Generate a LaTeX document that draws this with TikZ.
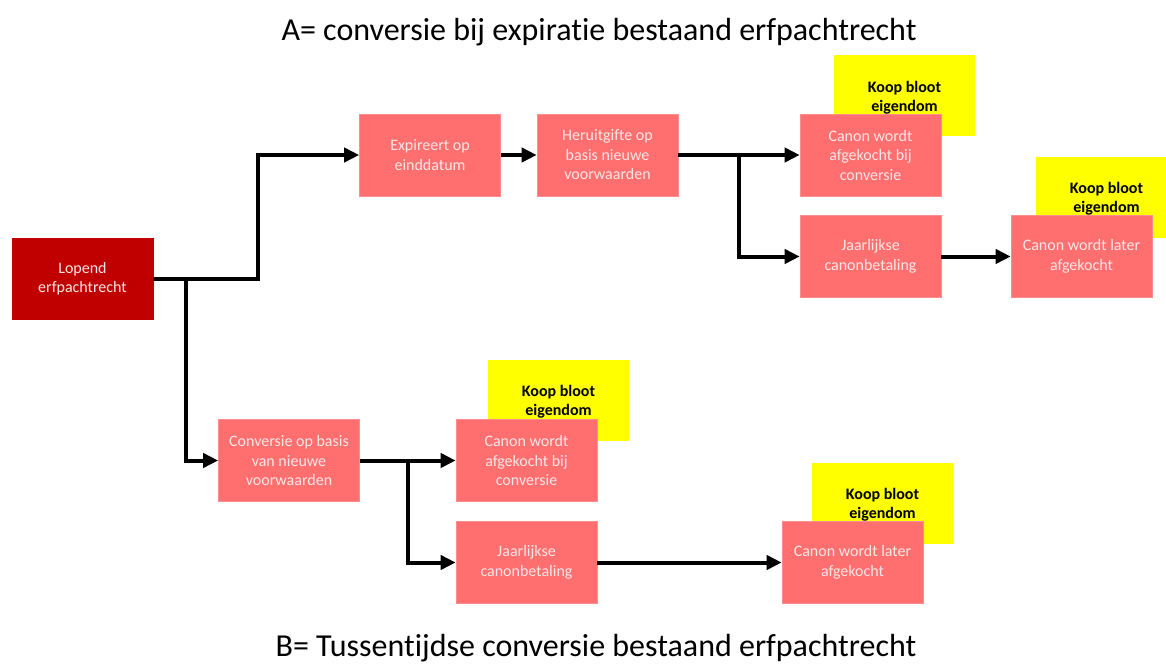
\documentclass[tikz,border=0pt]{standalone}
\usepackage{fontspec}
\setmainfont{Carlito}[Ligatures=NoCommon]
\usetikzlibrary{arrows.meta}
\definecolor{pinkc}{HTML}{FF6F6F}
\definecolor{pinkedge}{HTML}{FF8C8C}
\definecolor{pinktxt}{HTML}{FDE6E6}
\definecolor{darkred}{HTML}{C00000}
\definecolor{yel}{HTML}{FFFF00}
\tikzset{
  pbox/.style={rectangle, fill=pinkc, draw=pinkedge, line width=0.6pt, text=pinktxt,
    minimum width=141pt, minimum height=82pt, inner sep=0pt, align=center,
    font=\fontsize{16}{19.5}\selectfont},
  dbox/.style={pbox, fill=darkred, draw=darkred},
  ybox/.style={rectangle, fill=yel, minimum width=141pt, minimum height=81pt, inner sep=0pt,
    align=center, text=black, font=\fontsize{16}{19}\selectfont\bfseries},
  ytxt/.style={inner sep=0pt, align=center, text=black, font=\fontsize{16}{19}\selectfont\bfseries},
  arr/.style={line width=4pt, -{Triangle[length=15pt,width=14pt]}},
  ttl/.style={anchor=base, font=\fontsize{32}{36}\selectfont, text=black}
}
\begin{document}
\begin{tikzpicture}[x=1pt,y=-1pt]
\useasboundingbox[fill=white] (0,0) rectangle (1166,664);
% titles
\node[ttl] (ta) at (599,40) {A= conversie bij expiratie bestaand erfpachtrecht};
\node[ttl] (tb) at (596,656) {B= Tussentijdse conversie bestaand erfpachtrecht};
% yellow boxes
\node[ybox] (y1) at (904.5,95.5) {};
\node[ytxt] at ([yshift=-2pt]y1.center) {Koop bloot\\eigendom};
\node[ybox] (y2) at (1106.5,197) {};
\node[ytxt] at ([yshift=-2pt]y2.center) {Koop bloot\\eigendom};
\node[ybox] (y3) at (558.5,400) {};
\node[ytxt] at ([yshift=-2pt]y3.center) {Koop bloot\\eigendom};
\node[ybox] (y4) at (882.5,503) {};
\node[ytxt] at ([yshift=-2pt]y4.center) {Koop bloot\\eigendom};
% pink boxes
\node[dbox, minimum height=81pt] (lop) at (82.5,278.5) {Lopend\\erfpachtrecht};
\node[pbox] (exp) at (430,155) {Expireert op\\einddatum};
\node[pbox] (her) at (607.5,155) {Heruitgifte op\\basis nieuwe\\voorwaarden};
\node[pbox] (c1) at (870.5,155) {Canon wordt\\afgekocht bij\\conversie};
\node[pbox] (j1) at (870.5,256.5) {Jaarlijkse\\canonbetaling};
\node[pbox] (l1) at (1081.5,256.5) {Canon wordt later\\afgekocht};
\node[pbox] (conv) at (289,460.5) {Conversie op basis\\van nieuwe\\voorwaarden};
\node[pbox] (c2) at (526.5,460.5) {Canon wordt\\afgekocht bij\\conversie};
\node[pbox] (j2) at (526.5,562.5) {Jaarlijkse\\canonbetaling};
\node[pbox] (l2) at (852.5,562.5) {Canon wordt later\\afgekocht};
% junction coordinates
\coordinate (ka) at (258,278.5);
\coordinate (kb) at (186,278.5);
\coordinate (kc) at (739,155);
\coordinate (kd) at (408,460.5);
% connectors
\draw[arr] (lop.east) -- (ka) |- (exp.west);
\draw[arr] (kb) |- (conv.west);
\draw[arr] (exp.east) -- (her.west);
\draw[arr] (her.east) -- (c1.west);
\draw[arr] (kc) |- (j1.west);
\draw[arr] (j1.east) -- (l1.west);
\draw[arr] (conv.east) -- (c2.west);
\draw[arr] (kd) |- (j2.west);
\draw[arr] (j2.east) -- (l2.west);
\end{tikzpicture}
\end{document}
